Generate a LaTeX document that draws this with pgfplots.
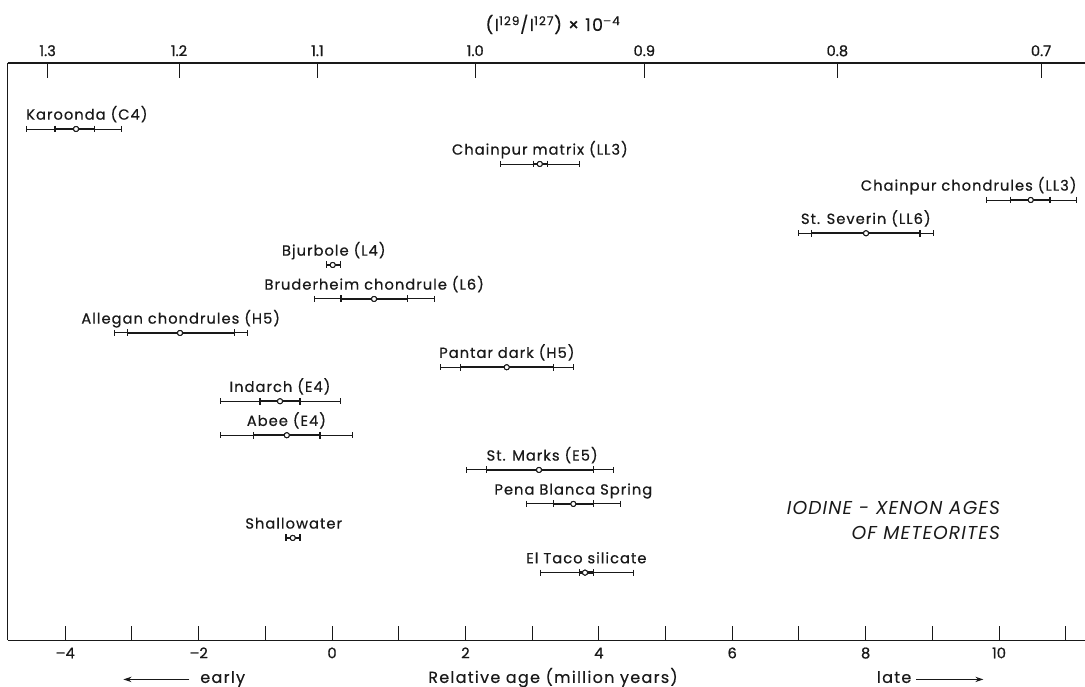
\documentclass[border=0pt]{standalone}
\usepackage{fontspec}
\setmainfont{Poppins}
\newfontfamily\labfont[LetterSpace=7, FakeBold=0.6]{Poppins}
\newfontfamily\tickfont[FakeBold=0.9]{Poppins}
\newfontfamily\ttlfont[LetterSpace=8, FakeBold=0.3]{Poppins}
\newfontfamily\itfont[LetterSpace=6]{Poppins}
\usepackage{pgfplots}
\usepackage{pgfplotstable}
\pgfplotsset{compat=1.18}
\usetikzlibrary{arrows.meta}

% row = vertical position of each meteorite (top to bottom), c = centre,
% olo/ohi = outer (thin) range, ilo/ihi = inner (thick) range, in million years
\pgfplotstableread{
row c olo ohi ilo ihi
129 -3.838 -4.588 -3.153 -4.153 -3.564
164 3.115 2.526 3.705 3.018 3.226
200 10.475 9.805 11.165 10.175 10.765
233.3 8.006 6.991 9.015 7.192 8.816
265 0.010 -0.079 0.130 -0.079 0.130
299 0.630 -0.270 1.534 0.135 1.129
333 -2.279 -3.268 -1.270 -3.069 -1.465
367.3 2.619 1.624 3.618 1.924 3.318
401.3 -0.780 -1.679 0.120 -1.079 -0.480
435.3 -0.678 -1.679 0.312 -1.174 -0.180
470 3.103 2.009 4.217 2.319 3.918
504 3.618 2.919 4.318 3.318 3.918
538 -0.589 -0.690 -0.480 -0.690 -0.480
572.7 3.793 3.118 4.517 3.708 3.918
}\bars

\pgfplotstableread{
lx row label
3.116 164 {Chainpur matrix (LL3)}
8.003 233.3 {St. Severin (LL6)}
0.026 265 {Bjurbole (L4)}
0.632 299 {Bruderheim chondrule (L6)}
-2.269 333 {Allegan chondrules (H5)}
2.621 367.3 {Pantar dark (H5)}
-0.780 401.3 {Indarch (E4)}
-0.684 435.3 {Abee (E4)}
3.150 470 {St. Marks (E5)}
3.618 504 {Pena Blanca Spring}
-0.575 538 {Shallowater}
3.813 572.7 {El Taco silicate}
}\labc

\pgfplotstableread{
lx row label
-4.588 129 {Karoonda (C4)}
}\labl

\pgfplotstableread{
lx row label
11.165 200 {Chainpur chondrules (LL3)}
}\labr

\begin{document}
\begin{tikzpicture}
\pgfplotsset{
  common/.style={
    scale only axis, width=808.1pt, height=433.1pt,
    xmin=-4.864, xmax=11.289, ymin=63, ymax=640.5, y dir=reverse,
    ytick=\empty,
    tick align=inside, major tick length=10.9pt,
    tick style={line width=0.75pt, black!90},
    axis line style={line width=1pt, black!90},
    xticklabel style={font=\tickfont\fontsize{11}{13}\selectfont, text=black!90},
    clip=false,
  },
  lab/.style={only marks, mark=none, nodes near coords, point meta=explicit symbolic,
    nodes near coords style={font=\labfont\fontsize{11}{13}\selectfont, text=black!90,
      anchor=#1, yshift=7pt, inner sep=0pt}},
}
\begin{axis}[common,
  axis x line*=bottom, axis y line*=left,
  xtick={-4,-3,-2,-1,0,1,2,3,4,5,6,7,8,9,10,11},
  xticklabels={–4,,–2,,0,,2,,4,,6,,8,,10,},
  xticklabel style={anchor=base, yshift=-13.4pt},
]
% outer (thin) ranges
\addplot[black!90, only marks, mark=none,
  error bars/.cd, x dir=both, x explicit, error mark=none,
  error bar style={line width=0.7pt, black!90}]
  table[x=c, y=row, x error plus expr=\thisrow{ohi}-\thisrow{c}, x error minus expr=\thisrow{c}-\thisrow{olo}] {\bars};
% inner (thick) ranges
\addplot[black!90, only marks, mark=none,
  error bars/.cd, x dir=both, x explicit, error mark=none,
  error bar style={line width=1.7pt, black!90}]
  table[x=c, y=row, x error plus expr=\thisrow{ihi}-\thisrow{c}, x error minus expr=\thisrow{c}-\thisrow{ilo}] {\bars};
% end caps of the outer ranges
\addplot[only marks, mark=|, mark size=2.3pt, mark options={line width=0.7pt, black!90}]
  table[x=olo, y=row] {\bars};
\addplot[only marks, mark=|, mark size=2.3pt, mark options={line width=0.7pt, black!90}]
  table[x=ohi, y=row] {\bars};
% end caps of the inner ranges
\addplot[only marks, mark=|, mark size=2.6pt, mark options={line width=1pt, black!90}]
  table[x=ilo, y=row] {\bars};
\addplot[only marks, mark=|, mark size=2.6pt, mark options={line width=1pt, black!90}]
  table[x=ihi, y=row] {\bars};
% centres
\addplot[only marks, mark=*, mark size=1.9pt,
  mark options={fill=white, draw=black!90, line width=0.7pt}]
  table[x=c, y=row] {\bars};
% labels
\addplot[lab=base] table[x=lx, y=row, meta=label] {\labc};
\addplot[lab=base west] table[x=lx, y=row, meta=label] {\labl};
\addplot[lab=base east] table[x=lx, y=row, meta=label] {\labr};

% titles and annotations
\node[anchor=base, inner sep=0pt, text=black!90, font=\ttlfont\fontsize{13}{15}\selectfont]
  at (axis cs:3.313,31) {(I\textsuperscript{129}/I\textsuperscript{127}) × 10\textsuperscript{–4}};
\node[anchor=base, inner sep=0pt, text=black!90, font=\ttlfont\fontsize{12}{14}\selectfont]
  at (axis cs:3.313,683) {Relative age (million years)};
\node[anchor=base west, inner sep=0pt, text=black!90, font=\ttlfont\fontsize{12}{14}\selectfont]
  at (axis cs:-1.979,683) {early};
\draw[black!90, line width=0.8pt, -{Stealth[length=6pt, width=4pt]}] (axis cs:-2.138,679.5) -- (axis cs:-3.127,679.5);
\node[anchor=base west, inner sep=0pt, text=black!90, font=\ttlfont\fontsize{12}{14}\selectfont]
  at (axis cs:8.166,683) {late};
\draw[black!90, line width=0.8pt, -{Stealth[length=6pt, width=4pt]}] (axis cs:8.76,679.5) -- (axis cs:9.765,679.5);
\node[anchor=east, align=right, inner sep=0pt, text=black!90, font=\itfont\itshape\fontsize{14}{18.3}\selectfont]
  at (axis cs:10.018,520.5) {IODINE - XENON AGES\\OF METEORITES};

\coordinate (bl) at (axis cs:-4.978,687);
\coordinate (tr) at (axis cs:11.289,0);
\end{axis}
\begin{axis}[common,
  axis x line*=top, axis y line=none,
  xtick={-4.264,-2.294,-0.219,2.147,4.682,7.576,10.630},
  xticklabels={1.3,1.2,1.1,1.0,0.9,0.8,0.7},
  xticklabel style={anchor=base, yshift=5.2pt},
]
\addplot[draw=none, mark=none] coordinates {(0,300)};
\end{axis}
\pgfresetboundingbox
\path[use as bounding box] (bl) rectangle (tr);
\end{tikzpicture}
\end{document}
